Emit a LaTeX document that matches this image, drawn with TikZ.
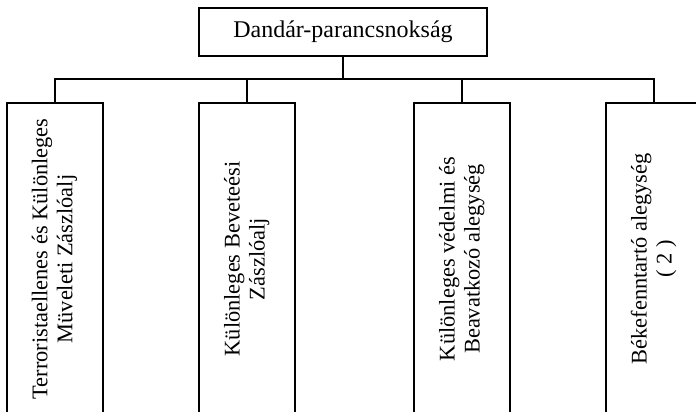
\documentclass[tikz,border=0pt]{standalone}
\usepackage{fontspec}
\setmainfont{Liberation Serif}
\usetikzlibrary{positioning,calc}

\begin{document}
\begin{tikzpicture}[x=1pt, y=1pt, node distance=23pt]
\tikzstyle{hq} = [rectangle, draw, line width=1.2pt, minimum width=288pt, minimum height=48pt, inner sep=0pt, outer sep=0pt, font=\fontsize{24}{28}\selectfont]
\tikzstyle{unit} = [rectangle, draw, line width=1.2pt, minimum width=96pt, minimum height=312pt, inner sep=0pt, outer sep=0pt, font=\fontsize{22.4}{25}\selectfont]
\tikzstyle{line} = [draw, line width=1.2pt]

\useasboundingbox (0,0) rectangle (696,-412);
\clip (0,0) rectangle (696,-412);

% Command block
\node [hq] (brigadeHQ) at (343,-32) {Dandár-parancsnokság};

% Unit blocks
\node [unit] (antiTerror) at (55,-259) {\rotatebox{90}{\begin{tabular}{@{}c@{}}Terroristaellenes és Különleges\\ Müveleti Zászlóalj\end{tabular}}};

\node [unit, right=96pt of antiTerror] (specialOps) {\rotatebox{90}{\begin{tabular}{@{}c@{}}Különleges Beveteési\\ Zászlóalj\end{tabular}}};

\node [unit, right=119pt of specialOps] (specialDefence) {\rotatebox{90}{\begin{tabular}{@{}c@{}}Különleges védelmi és\\ Beavatkozó alegység\end{tabular}}};

\node [unit, right=96pt of specialDefence] (peacekeeping) {\rotatebox{90}{\begin{tabular}{@{}c@{}}Békefenntartó alegység\\ ( 2 )\end{tabular}}};

% Connections
\coordinate [below=of brigadeHQ] (bus);
\path [line] (brigadeHQ) -- (bus);
\foreach \u in {antiTerror, specialOps, specialDefence, peacekeeping}
  \path [line] (bus) -| (\u);

\end{tikzpicture}
\end{document}
